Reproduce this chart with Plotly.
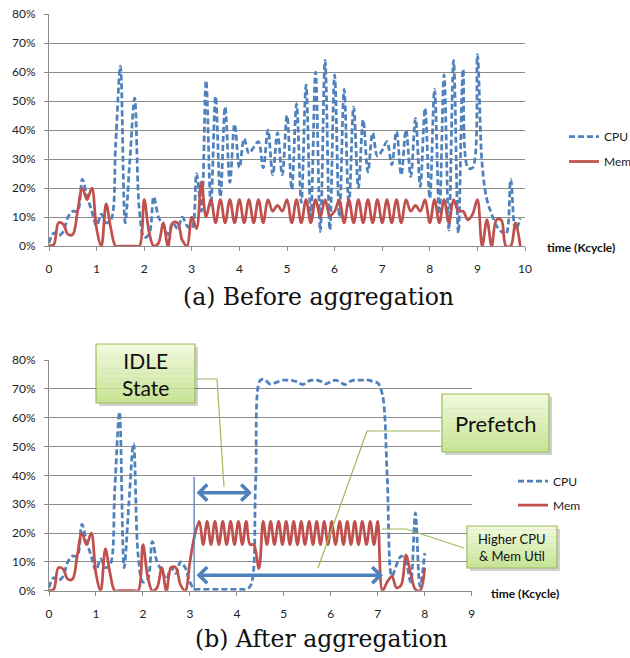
import plotly.graph_objects as go

# ---------------- data ----------------
time_a = [round(i * 0.1, 1) for i in range(100)]
cpu_a = [1, 4.5, 3.5, 5, 10, 12, 12, 23, 17, 12,
         7, 11, 8, 9, 35, 62, 8, 30, 51, 12,
         3, 4, 17, 10, 7, 4, 8, 6, 10, 7,
         6, 25, 12, 57, 14, 51.5, 17, 48, 22, 42,
         27, 37, 32, 34, 36, 27, 40, 24.5, 39, 24.5,
         45, 19.5, 49, 15, 55.5, 10, 60, 5, 64, 5.5,
         59, 10, 54, 14, 48, 20, 43.5, 25.5, 39, 31,
         33, 36, 28, 39.5, 24.5, 40, 24, 44, 20.5, 47.5,
         16.5, 54, 11, 59, 5.5, 64, 4.5, 61, 27, 27,
         66, 28, 16, 11, 7, 5, 4, 23, 5.5, 9.5]
mem_a = [0, 0.5, 8, 7.5, 4, 4, 12, 20, 16, 20,
         6, 0, 14.5, 6, 0, 0, 0, 0, 0, 0,
         16, 5, 0, 1, 8, 0, 8, 8, 2, 0,
         10, 6, 22, 10, 16, 8, 16, 8, 16, 8,
         16, 8, 16, 8, 16, 8, 16, 12, 14, 12,
         16, 8, 16, 8, 16, 8, 16, 10, 16, 10.5,
         12, 16, 8, 16, 8, 16, 8, 16, 8, 16,
         8, 16, 8, 16, 8, 16, 12, 14, 12, 16,
         8, 16, 8, 16, 8, 16, 12, 12, 9, 11,
         16, 0, 9, 0, 9, 9, 0, 0, 8, 0]

time_b = [round(i * 0.1, 1) for i in range(81)]
cpu_b = [1, 4.5, 3.5, 5, 10, 12, 12, 23, 17, 12,
         7, 11, 8, 9, 35, 62, 8, 30, 51, 12,
         3, 4, 17, 10, 7, 4, 8, 6, 10, 8,
         3, 0.5, 0.5, 0.5, 0.5, 0.5, 0.5, 0.5, 0.5, 0.5,
         0.5, 0.5, 0.5, 2, 38, 73, 73, 71.7, 72, 72.6,
         73, 73, 72.8, 72.3, 71.5, 72.5, 73, 73, 72.5, 71.7,
         72.5, 73, 72.3, 71.5, 72.5, 73, 73, 73, 73, 72.5,
         72, 68, 40, 5, 9, 12, 10, 3, 27, 1.5,
         13]
mem_b_time = [0.0, 0.1, 0.2, 0.3, 0.4, 0.5, 0.6, 0.7, 0.8, 0.9,
              1.0, 1.1, 1.2, 1.3, 1.4, 1.5, 1.6, 1.7, 1.8, 1.9,
              2.0, 2.1, 2.2, 2.3, 2.4, 2.5, 2.6, 2.7, 2.8, 2.9,
              3.0, 3.1, 3.2, 3.283, 3.367, 3.45, 3.533, 3.617, 3.7, 3.783,
              3.867, 3.95, 4.033, 4.117, 4.2, 4.28, 4.36, 4.47, 4.56, 4.64,
              4.72, 4.80, 4.89, 4.97, 5.05, 5.13, 5.21, 5.29, 5.37, 5.45,
              5.54, 5.62, 5.70, 5.78, 5.86, 5.94, 6.02, 6.10, 6.19, 6.27,
              6.35, 6.43, 6.51, 6.59, 6.67, 6.76, 6.84, 6.92, 7.0, 7.1,
              7.2, 7.3, 7.4, 7.5, 7.6, 7.7, 7.8, 7.9, 8.0]
mem_b = [0, 0.5, 8, 7.5, 4, 4, 12, 20, 16, 20,
         6, 0, 14.5, 6, 0, 0, 0, 0, 0, 0,
         16, 5, 0, 1, 8, 0, 8, 8, 2, 0,
         10, 19, 24, 16, 24, 16, 24, 16, 24, 16,
         24, 16, 24, 16, 24, 16, 16, 7.7, 24, 16,
         24, 16, 24, 16, 24, 16, 24, 16, 24, 16,
         24, 16, 24, 16, 24, 16, 24, 16, 24, 16,
         24, 16, 24, 16, 24, 16, 24, 16, 24, 0,
         3, 5, 1, 2, 12.3, 6, 0.5, 0, 8]

x_ticks_a = list(range(0, 11))
x_ticks_b = list(range(0, 10))
y_ticks = [0, 10, 20, 30, 40, 50, 60, 70, 80]
y_tick_text = [f"{v}%" for v in y_ticks]

# ---------------- styling ----------------
BLUE = "#4F81BD"
RED = "#C0504D"
GRID = "#8c8c8c"
GREEN = "#9BBB59"
FONT = "Lato"
W, H = 630, 658


def px(x):
    return x / W


def py(y):
    return 1 - y / H


fig = go.Figure()
cpu_line = dict(color=BLUE, width=2.75, dash="6px,3px", shape="spline", smoothing=1)
mem_line = dict(color=RED, width=2.75, shape="spline", smoothing=1)

fig.add_trace(go.Scatter(x=time_a, y=cpu_a, name="CPU", mode="lines", line=cpu_line,
                         xaxis="x", yaxis="y", legend="legend", legendgroup="a1"))
fig.add_trace(go.Scatter(x=time_a, y=mem_a, name="Mem", mode="lines", line=mem_line,
                         xaxis="x", yaxis="y", legend="legend", legendgroup="a2"))
fig.add_trace(go.Scatter(x=time_b, y=cpu_b, name="CPU", mode="lines", line=cpu_line,
                         xaxis="x2", yaxis="y2", legend="legend2", legendgroup="b1"))
fig.add_trace(go.Scatter(x=mem_b_time, y=mem_b, name="Mem", mode="lines", line=mem_line,
                         xaxis="x2", yaxis="y2", legend="legend2", legendgroup="b2"))

TICKFONT = dict(family=FONT, size=12, color="#222")
xaxis_common = dict(showgrid=False, zeroline=False, showline=True, linecolor=GRID, linewidth=1,
                    ticks="outside", ticklen=4, tickcolor=GRID, tickfont=TICKFONT,
                    ticklabelstandoff=8, automargin=False)
yaxis_common = dict(range=[0, 80], tickvals=y_ticks, ticktext=y_tick_text, showgrid=True, gridcolor=GRID,
                    gridwidth=1, zeroline=False, showline=True, linecolor=GRID, linewidth=1,
                    ticks="outside", ticklen=4, tickcolor=GRID,
                    tickfont=TICKFONT, ticklabelstandoff=6, automargin=False)

LEGFONT = dict(family=FONT, size=12, color="#222")
fig.update_layout(
    width=W, height=H, margin=dict(l=0, r=0, t=0, b=0, pad=0, autoexpand=False),
    paper_bgcolor="white", plot_bgcolor="white",
    font=dict(family=FONT, size=12, color="#222"),
    xaxis=dict(domain=[px(49), px(525)], range=[0, 10], tickvals=x_ticks_a, anchor="y", **xaxis_common),
    yaxis=dict(domain=[py(246), py(14)], anchor="x", **yaxis_common),
    xaxis2=dict(domain=[px(49), px(471.7)], range=[0, 9], tickvals=x_ticks_b, anchor="y2", **xaxis_common),
    yaxis2=dict(domain=[py(590.7), py(360)], anchor="x2", **yaxis_common),
    legend=dict(x=px(564), y=py(122), xanchor="left", yanchor="top", bgcolor="rgba(0,0,0,0)",
                font=LEGFONT, tracegroupgap=6, itemwidth=30),
    legend2=dict(x=px(513), y=py(466.5), xanchor="left", yanchor="top", bgcolor="rgba(0,0,0,0)",
                 font=LEGFONT, tracegroupgap=5, itemwidth=30),
)

annotations = []


def label(text, x, y, size, family=FONT, color="#111"):
    annotations.append(dict(text=text, x=px(x), y=py(y), xref="paper", yref="paper",
                            xanchor="center", yanchor="middle", showarrow=False,
                            font=dict(family=family, size=size, color=color)))


# axis titles
label("<b>time (Kcycle)</b>", 581, 248, 12)
label("<b>time (Kcycle)</b>", 525, 593, 12)
# captions
label("(a) Before aggregation", 318, 297, 23.5, family="DejaVu Serif")
label("(b) After aggregation", 321.5, 639, 23.5, family="DejaVu Serif")

shapes = []


def callout_box(x0, y0, x1, y1):
    # shadow
    shapes.append(dict(type="rect", xref="paper", yref="paper", x0=px(x0 + 3), x1=px(x1 + 3),
                       y0=py(y1 + 3), y1=py(y0 + 3), fillcolor="rgba(0,0,0,0.18)", line=dict(width=0),
                       layer="above"))
    n = 12
    top = (240, 249, 218)
    bot = (200, 228, 150)
    for i in range(n):
        t = i / (n - 1)
        c = tuple(round(top[k] + (bot[k] - top[k]) * t) for k in range(3))
        ya = y0 + (y1 - y0) * i / n
        yb = y0 + (y1 - y0) * (i + 1) / n
        shapes.append(dict(type="rect", xref="paper", yref="paper", x0=px(x0), x1=px(x1),
                           y0=py(yb), y1=py(ya), fillcolor=f"rgb{c}", line=dict(width=0), layer="above"))
    shapes.append(dict(type="rect", xref="paper", yref="paper", x0=px(x0), x1=px(x1),
                       y0=py(y1), y1=py(y0), fillcolor="rgba(0,0,0,0)", line=dict(color=GREEN, width=1.2),
                       layer="above"))


def leader(points):
    path = "M " + " L ".join(f"{px(a)},{py(b)}" for a, b in points)
    shapes.append(dict(type="path", xref="paper", yref="paper", path=path,
                       line=dict(color=GREEN, width=1.2), layer="above"))


# leader lines
leader([(197, 379), (217, 379), (224, 487)])
leader([(440, 431), (367, 431), (318, 568)])
leader([(464, 548), (406, 529), (382, 529)])

callout_box(96, 344, 195, 403)
callout_box(442, 394, 549, 452)
callout_box(467, 526, 557, 568)

label("IDLE<br>State", 145.5, 373.5, 21)
label("Prefetch", 495.5, 423, 22)
label("Higher CPU<br>& Mem Util", 512, 547, 13)

# vertical marker line at start of idle
shapes.append(dict(type="line", xref="x2", yref="y2", x0=3.09, x1=3.09, y0=0, y1=39.5,
                   line=dict(color=BLUE, width=1.3)))

# double headed arrows
annotations.append(dict(x=4.32, y=34, ax=3.11, ay=34, xref="x2", yref="y2", axref="x2", ayref="y2",
                        text="", showarrow=True, arrowhead=4, startarrowhead=4, arrowside="end+start",
                        arrowsize=0.9, startarrowsize=0.9, arrowwidth=3.5, arrowcolor=BLUE))
annotations.append(dict(x=7.11, y=5.4, ax=3.11, ay=5.4, xref="x2", yref="y2", axref="x2", ayref="y2",
                        text="", showarrow=True, arrowhead=4, startarrowhead=4, arrowside="end+start",
                        arrowsize=0.9, startarrowsize=0.9, arrowwidth=3.5, arrowcolor=BLUE))

fig.update_layout(annotations=annotations, shapes=shapes)
fig.write_html("out.html")
